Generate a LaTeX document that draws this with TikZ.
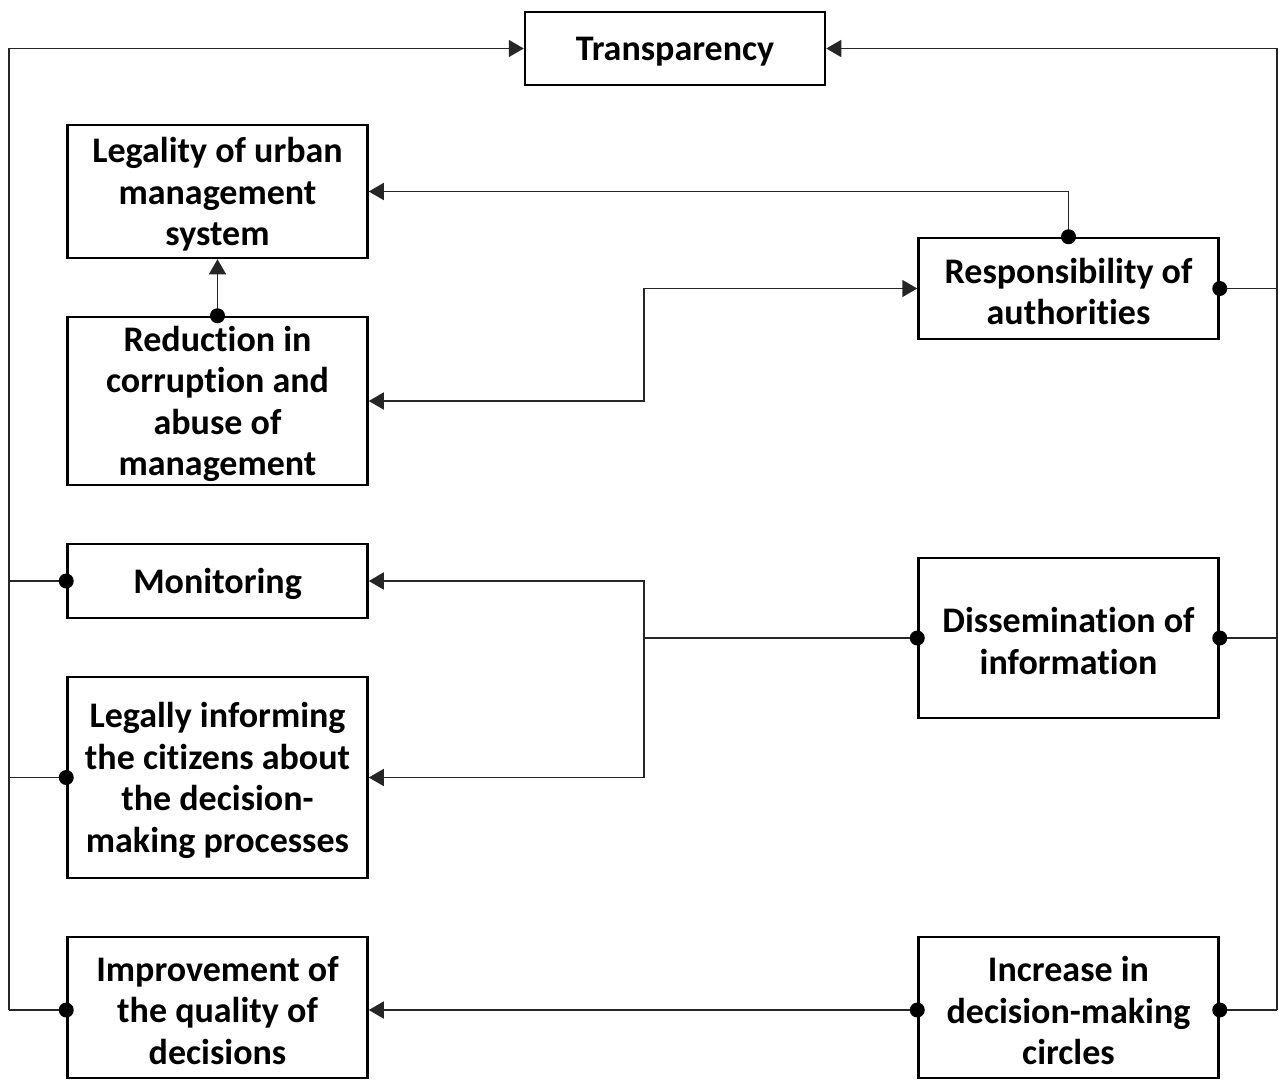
\documentclass[tikz,border=0pt]{standalone}
\usepackage{fontspec}
\setmainfont{Carlito}[Ligatures={NoCommon}]
\usetikzlibrary{arrows.meta}
\begin{document}
\begin{tikzpicture}[x=1pt,y=-1pt,
  box/.style={draw, line width=2.5pt, inner sep=0pt, minimum width=300pt},
  txt/.style={align=center, inner sep=0pt, yshift=-3pt,
    font=\fontsize{36}{41.5}\selectfont\bfseries},
  conn/.style={line width=1.5pt, draw=black!85},
  arr/.style={conn, -{Triangle[length=15pt,width=17pt]}},
  darr/.style={conn, {Triangle[length=15pt,width=17pt]}-{Triangle[length=15pt,width=17pt]}},
  dot/.style={fill=black}]
\useasboundingbox (0,0) rectangle (1279,1081);
% boxes
\node[box, minimum height=73pt, label={[txt]center:Transparency}] (T) at (675,48.5) {};
\node[box, minimum height=133pt, label={[txt]center:{Legality of urban\\management\\system}}] (Leg) at (217.5,191.5) {};
\node[box, minimum height=168pt, label={[txt]center:{Reduction in\\corruption and\\abuse of\\management}}] (Red) at (217.5,401) {};
\node[box, minimum height=74pt, label={[txt]center:Monitoring}] (Mon) at (217.5,581) {};
\node[box, minimum height=201pt, label={[txt]center:{Legally informing\\the citizens about\\the decision-\\making processes}}] (Inf) at (217.5,777.5) {};
\node[box, minimum height=141pt, label={[txt]center:{Improvement of\\the quality of\\decisions}}] (Imp) at (217.5,1007.5) {};
\node[box, minimum height=101pt, label={[txt]center:{Responsibility of\\authorities}}] (Resp) at (1068.5,288.5) {};
\node[box, minimum height=160pt, label={[txt]center:{Dissemination of\\information}}] (Dis) at (1068.5,638) {};
\node[box, minimum height=141pt, label={[txt]center:{Increase in\\decision-making\\circles}}] (Inc) at (1068.5,1007.5) {};
% junction coordinates
\coordinate (LT) at (9,48.5);
\coordinate (LB) at (9,1010);
\coordinate (RT) at (1277,48.5);
\coordinate (RB) at (1277,1010);
\coordinate (J1) at (644,401);
\coordinate (J2) at (644,638);
% left bus
\draw[arr] (LB) -- (LT) -- (T.west);
\draw[conn] (Mon.west) -- (Mon.west -| LT);
\draw[conn] (Inf.west) -- (Inf.west -| LT);
\draw[conn] (Imp.west |- LB) -- (LB);
% right bus
\draw[arr] (RB) -- (RT) -- (T.east);
\draw[conn] (Resp.east) -- (Resp.east -| RT);
\draw[conn] (Dis.east) -- (Dis.east -| RT);
\draw[conn] (Inc.east |- RB) -- (RB);
% inner connectors
\draw[arr] (Resp.north) |- (Leg.east);
\draw[arr] (Red.north) -- (Leg.south);
\draw[darr] (Red.east) -- (J1) |- (Resp.west);
\draw[conn] (Dis.west) -- (J2);
\draw[arr] (J2) |- (Mon.east);
\draw[arr] (J2) |- (Inf.east);
\draw[arr] (Inc.west |- RB) -- (Imp.east |- RB);
% dots
\fill[dot] (Resp.north) circle (7.5);
\fill[dot] (Resp.east) circle (7.5);
\fill[dot] (Red.north) circle (7.5);
\fill[dot] (Mon.west) circle (7.5);
\fill[dot] (Inf.west) circle (7.5);
\fill[dot] (Imp.west |- LB) circle (7.5);
\fill[dot] (Dis.west) circle (7.5);
\fill[dot] (Dis.east) circle (7.5);
\fill[dot] (Inc.west |- RB) circle (7.5);
\fill[dot] (Inc.east |- RB) circle (7.5);
\end{tikzpicture}
\end{document}
